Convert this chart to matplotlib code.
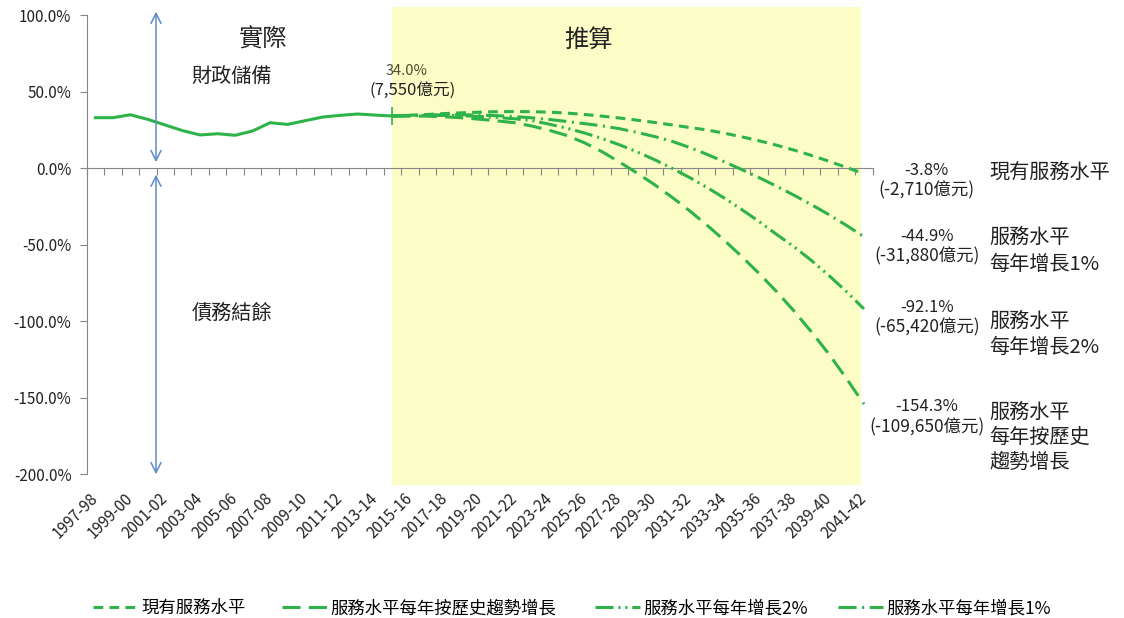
import matplotlib
matplotlib.use('Agg')
import matplotlib.pyplot as plt
import numpy as np

plt.rcParams['font.family'] = ['Noto Sans CJK TC', 'DejaVu Sans']
plt.rcParams['lines.scale_dashes'] = False

categories = ['1997-98', '1998-99', '1999-00', '2000-01', '2001-02', '2002-03', '2003-04',
              '2004-05', '2005-06', '2006-07', '2007-08', '2008-09', '2009-10', '2010-11',
              '2011-12', '2012-13', '2013-14', '2014-15', '2015-16', '2016-17', '2017-18',
              '2018-19', '2019-20', '2020-21', '2021-22', '2022-23', '2023-24', '2024-25',
              '2025-26', '2026-27', '2027-28', '2028-29', '2029-30', '2030-31', '2031-32',
              '2032-33', '2033-34', '2034-35', '2035-36', '2036-37', '2037-38', '2038-39',
              '2039-40', '2040-41', '2041-42']

# actual fiscal reserves (% of GDP), 1997-98 .. 2014-15
actual = [32.9, 32.9, 34.8, 31.8, 28.1, 24.4, 21.6, 22.4, 21.4, 24.2, 29.6, 28.5,
          30.9, 33.3, 34.4, 35.3, 34.6, 34.0]

# projections 2014-15 .. 2041-42
proj_current = [34.0, 34.5, 35.0, 35.6, 36.1, 36.5, 36.8, 36.9, 36.8, 36.5, 35.9, 35.0,
                33.9, 32.7, 31.3, 29.8, 28.2, 26.5, 24.9, 22.8, 20.4, 17.8, 14.9, 11.7,
                8.2, 4.4, 0.4, -3.8]
proj_hist = [34.0, 34.0, 33.9, 33.5, 32.8, 31.9, 30.8, 29.6, 27.4, 24.6, 21.2, 16.5,
             10.7, 3.9, -3.2, -10.8, -19.0, -27.8, -37.2, -47.2, -57.8, -69.0, -80.8,
             -93.5, -107.2, -121.7, -137.6, -154.3]
proj_g2 = [34.0, 34.2, 34.4, 34.4, 34.2, 33.7, 33.0, 32.2, 31.0, 28.6, 26.0, 22.9,
           19.3, 15.2, 10.6, 5.5, -0.1, -6.1, -12.6, -19.6, -27.1, -35.0, -43.4,
           -51.5, -60.5, -70.3, -80.8, -92.1]
proj_g1 = [34.0, 34.3, 34.6, 34.8, 34.8, 34.6, 34.2, 33.6, 32.8, 31.7, 30.4, 29.0,
           27.6, 25.7, 23.3, 20.6, 17.5, 13.5, 9.0, 4.1, -1.0, -6.3, -11.9, -17.8,
           -24.0, -30.5, -37.5, -44.9]

legend_labels = ['現有服務水平', '服務水平每年按歷史趨勢增長', '服務水平每年增長2%', '服務水平每年增長1%']
yticks = [-200, -150, -100, -50, 0, 50, 100]

green = '#2DB34A'
grey = '#868686'
blue = '#5B8BC9'
txt = '#222222'

fig = plt.figure(figsize=(11.24, 6.18), dpi=100)
ax = fig.add_axes([0.0771, 0.233, 0.6993, 0.7427])
ax.set_xlim(-0.5, 44.5)
ax.set_ylim(-200, 100)

start = len(actual) - 1
px = np.arange(start, start + len(proj_current))

ax.axvspan(start, 43.86, ymin=-0.024, ymax=1.017, color='#FCFCC6', zorder=0, clip_on=False, lw=0)

ax.plot(np.arange(len(actual)), actual, color=green, lw=2.2, marker='+', markevery=[start],
        ms=13, mew=1.2, zorder=3)
h1, = ax.plot(px, proj_current, color=green, lw=2.2, ls=(0, (7, 4.5)), zorder=3)
h2, = ax.plot(px, proj_hist, color=green, lw=2.2, ls=(0, (13, 6)), zorder=3)
h3, = ax.plot(px, proj_g2, color=green, lw=2.2, ls=(0, (13, 3.5, 1.5, 3.5, 1.5, 3.5)), zorder=3)
h4, = ax.plot(px, proj_g1, color=green, lw=2.2, ls=(0, (13, 4, 1.5, 4)), zorder=3)

for s in ['top', 'right']:
    ax.spines[s].set_visible(False)
ax.spines['left'].set_color(grey)
ax.spines['bottom'].set_color(grey)
ax.spines['bottom'].set_position(('data', 0))
ax.set_xticks(np.arange(-0.5, 45, 1))
ax.set_xticklabels([])
ax.tick_params(axis='x', direction='out', length=5, color=grey)
ax.set_yticks(yticks)
ax.set_yticklabels(['%.1f%%' % v for v in yticks], fontsize=11, color=txt)
ax.tick_params(axis='y', direction='out', length=5, color=grey, pad=6)

sec = ax.secondary_xaxis('bottom')
sec.spines['bottom'].set_visible(False)
sec.set_xticks(np.arange(0, len(categories), 2))
sec.set_xticklabels(categories[::2], rotation=45, ha='right', va='center',
                    rotation_mode='anchor', fontsize=11, color=txt)
sec.tick_params(length=0, pad=16)

# section labels
ax.text(9.6, 83.7, '實際', fontsize=17.5, ha='center', va='center', color=txt)
ax.text(28.2, 83.7, '推算', fontsize=17.5, ha='center', va='center', color=txt)
ax.text(7.8, 59.5, '財政儲備', fontsize=14.5, ha='center', va='center', color=txt)
ax.text(7.8, -94.8, '債務結餘', fontsize=14.5, ha='center', va='center', color=txt)

# arrows
ax.annotate('', xy=(3.47, 104), xytext=(3.47, 2), annotation_clip=False,
            arrowprops=dict(arrowstyle='<->', color=blue, lw=1.1, mutation_scale=18))
ax.annotate('', xy=(3.47, -202), xytext=(3.47, -2.5), annotation_clip=False,
            arrowprops=dict(arrowstyle='<->', color=blue, lw=1.1, mutation_scale=18))

# start annotation
ax.text(17.84, 63.4, '34.0%', fontsize=10.5, ha='center', va='center', color='#4a4a30')
ax.text(18.18, 51.0, '(7,550億元)', fontsize=12, ha='center', va='center', color=txt)

# end annotations
end_notes = [
    ('-3.8%', '(-2,710億元)', -1.3, -14.3, ['現有服務水平'], -2.5, 17.5),
    ('-44.9%', '(-31,880億元)', -44.5, -57.6, ['服務水平', '每年增長1%'], -45.5, 17.5),
    ('-92.1%', '(-65,420億元)', -91.0, -104.0, ['服務水平', '每年增長2%'], -100.0, 17.0),
    ('-154.3%', '(-109,650億元)', -156.2, -169.3, ['服務水平', '每年按歷史', '趨勢增長'], -159.5, 16.5),
]
for pct, amt, y1, y2, lines, y3, step in end_notes:
    ax.text(47.6, y1, pct, fontsize=12, ha='center', va='center', color=txt, clip_on=False)
    ax.text(47.6, y2, amt, fontsize=12.5, ha='center', va='center', color=txt, clip_on=False)
    for k, t in enumerate(lines):
        ax.text(51.2, y3 - step * k, t, fontsize=14.5, ha='left', va='center', color=txt,
                clip_on=False)

# legend: one entry per block, positioned like the reference
legend_x = [93, 282, 595, 838]
for h, lab, lx in zip([h1, h2, h3, h4], legend_labels, legend_x):
    fig.legend([h], [lab], loc='center left', bbox_to_anchor=(lx / 1124, 0.016),
               frameon=False, fontsize=12.5, handlelength=2.6, handletextpad=0.2,
               borderpad=0, borderaxespad=0)

fig.savefig('out.png', dpi=100)
